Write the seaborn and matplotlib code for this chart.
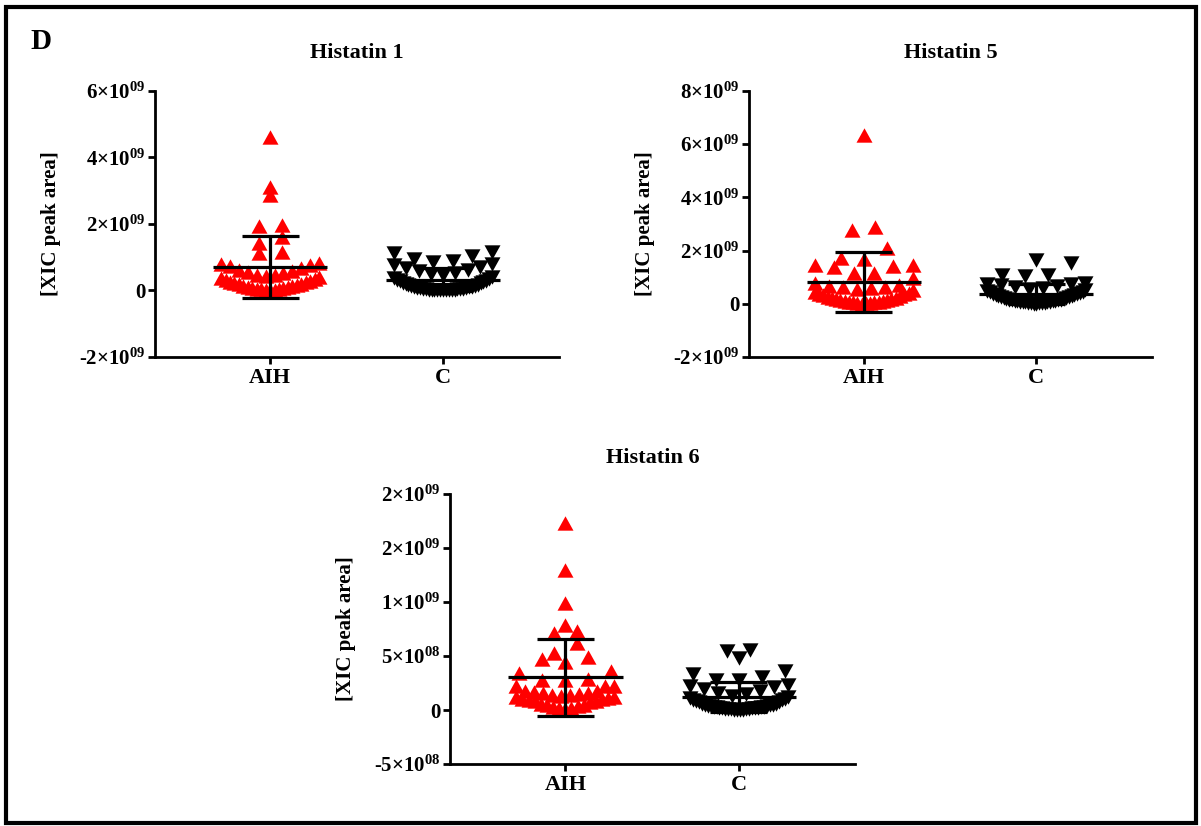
import numpy as np
import pandas as pd
import matplotlib
matplotlib.use("Agg")
import matplotlib.pyplot as plt
from matplotlib.path import Path
from matplotlib.patches import Rectangle
import seaborn as sns

# XIC peak areas, in units of 1e9
hst1_aih = [4.63, 3.10, 2.87, 1.97, 1.95, 1.62, 1.42, 1.17, 1.12, 0.82, 0.80, 0.77,
            0.75, 0.68, 0.61, 0.58, 0.55, 0.52, 0.48, 0.46, 0.43, 0.40, 0.37, 0.35,
            0.32, 0.30, 0.27, 0.25, 0.23, 0.21, 0.19, 0.17, 0.15, 0.13, 0.12, 0.10,
            0.09, 0.07, 0.06, 0.05, 0.04, 0.03, 0.02, 0.01]
hst1_c = [1.15, 1.13, 1.05, 0.94, 0.90, 0.86, 0.79, 0.76, 0.72, 0.68, 0.63, 0.58,
          0.54, 0.50, 0.46, 0.42, 0.39, 0.36, 0.33, 0.30, 0.28, 0.26, 0.24, 0.22,
          0.20, 0.18, 0.16, 0.15, 0.14, 0.12, 0.11, 0.10, 0.09, 0.08, 0.07, 0.06,
          0.05, 0.05, 0.04, 0.04, 0.03, 0.03, 0.02, 0.02, 0.02, 0.01, 0.01, 0.01,
          0.00, 0.00]
hst5_aih = [6.35, 2.90, 2.77, 2.09, 1.71, 1.67, 1.46, 1.46, 1.43, 1.39, 1.15, 1.15,
            0.96, 0.64, 0.64, 0.78, 0.72, 0.66, 0.60, 0.55, 0.50, 0.46, 0.42, 0.38,
            0.35, 0.32, 0.29, 0.26, 0.23, 0.21, 0.19, 0.17, 0.15, 0.13, 0.11, 0.10,
            0.08, 0.07, 0.06, 0.05, 0.04, 0.03, 0.02, 0.01]
hst5_c = [1.65, 1.52, 1.08, 1.08, 1.06, 0.78, 0.75, 0.73, 0.71, 0.66, 0.62, 0.58,
          0.55, 0.52, 0.49, 0.46, 0.43, 0.40, 0.38, 0.36, 0.34, 0.32, 0.30, 0.28,
          0.26, 0.24, 0.22, 0.21, 0.19, 0.18, 0.16, 0.15, 0.14, 0.13, 0.12, 0.11,
          0.10, 0.09, 0.08, 0.07, 0.06, 0.05, 0.05, 0.04, 0.03, 0.03, 0.02, 0.02,
          0.01, 0.01]
hst6_aih = [1.735, 1.295, 0.99, 0.79, 0.73, 0.71, 0.62, 0.53, 0.49, 0.47, 0.44, 0.36,
            0.34, 0.29, 0.28, 0.28, 0.22, 0.22, 0.22, 0.18, 0.18, 0.17, 0.16, 0.16,
            0.15, 0.14, 0.14, 0.13, 0.12, 0.12, 0.11, 0.10, 0.10, 0.09, 0.08, 0.08,
            0.07, 0.06, 0.05, 0.05, 0.04, 0.03, 0.02, 0.02, 0.01]
hst6_c = [0.56, 0.55, 0.48, 0.36, 0.33, 0.31, 0.28, 0.28, 0.23, 0.22, 0.21, 0.19,
          0.18, 0.16, 0.15, 0.13, 0.12, 0.11, 0.10, 0.09, 0.09, 0.08, 0.07, 0.07,
          0.06, 0.06, 0.05, 0.05, 0.05, 0.04, 0.04, 0.04, 0.03, 0.03, 0.03, 0.03,
          0.02, 0.02, 0.02, 0.02, 0.02, 0.01, 0.01, 0.01, 0.01, 0.01, 0.00, 0.00,
          0.00, 0.00]

groups = ["AIH", "C"]
titles = ["Histatin 1", "Histatin 5", "Histatin 6"]
series = [(hst1_aih, hst1_c), (hst5_aih, hst5_c), (hst6_aih, hst6_c)]
tick_values = [[-2, 0, 2, 4, 6],
               [-2, 0, 2, 4, 6, 8],
               [-0.5, 0, 0.5, 1.0, 1.5, 2.0]]
tick_labels = [["-2×10$^{09}$", "0", "2×10$^{09}$", "4×10$^{09}$", "6×10$^{09}$"],
               ["-2×10$^{09}$", "0", "2×10$^{09}$", "4×10$^{09}$", "6×10$^{09}$", "8×10$^{09}$"],
               ["-5×10$^{08}$", "0", "5×10$^{08}$", "1×10$^{09}$", "2×10$^{09}$", "2×10$^{09}$"]]
y_limits = [(-2, 6), (-2, 8), (-0.5, 2.0)]
colors = {"AIH": "#ff0000", "C": "#000000"}

sns.set_style("ticks")
plt.rcParams["font.family"] = ["Liberation Serif", "DejaVu Serif"]
plt.rcParams["font.weight"] = "bold"
plt.rcParams["mathtext.default"] = "regular"
for key in ("text.color", "axes.labelcolor", "xtick.color", "ytick.color", "axes.edgecolor"):
    plt.rcParams[key] = "black"

W, H = 1201, 826
DPI = 100
fig = plt.figure(figsize=(W / DPI, H / DPI), dpi=DPI)

# axes boxes in pixels: left, top, right, bottom
boxes = [(155, 91, 559, 357), (749, 91, 1152, 357), (450, 494, 855, 764)]
title_pads = [24, 24, 22]
XLIM = (-0.665, 1.67)

# triangle markers, slightly wider than tall
up_tri = Path([(0, 0.9), (-1, -0.9), (1, -0.9), (0, 0.9)],
              [Path.MOVETO, Path.LINETO, Path.LINETO, Path.CLOSEPOLY])
down_tri = Path([(0, -0.9), (-1, 0.9), (1, 0.9), (0, -0.9)],
                [Path.MOVETO, Path.LINETO, Path.LINETO, Path.CLOSEPOLY])
markers = {"AIH": up_tri, "C": down_tri}
MARKER_PT = 11.5


def dot_columns(values, px_per_unit, px_per_cat, bin_px=14.0, step_px=23.0, half_px=49.0):
    """Scatter-dot layout: values are grouped into rows one marker tall; each row is
    spread sideways around the column centre, smallest values in the middle."""
    v = np.sort(np.asarray(values, dtype=float))
    rows = np.floor(v * px_per_unit / bin_px).astype(int)
    offsets = np.zeros_like(v)
    for r in np.unique(rows):
        idx = np.where(rows == r)[0]
        n = len(idx)
        if n < 2:
            continue
        step = min(step_px, 2 * half_px / (n - 1))
        slots = np.arange(n) - (n - 1) / 2
        order = np.array(sorted(slots, key=lambda s: (abs(s), s)))
        offsets[idx] = order * step / px_per_cat
    return v, offsets


LW = 2.3
for k, (l, t, r, b) in enumerate(boxes):
    ax = fig.add_axes([l / W, 1 - b / H, (r - l) / W, (b - t) / H])
    y0, y1 = y_limits[k]
    px_per_unit = (b - t) / (y1 - y0)
    px_per_cat = (r - l) / (XLIM[1] - XLIM[0])

    frames = []
    for i, (g, vals) in enumerate(zip(groups, series[k])):
        v, off = dot_columns(vals, px_per_unit, px_per_cat)
        frames.append(pd.DataFrame({"group": g, "value": v, "pos": i + off}))
    df = pd.concat(frames, ignore_index=True)

    for g in groups:
        sub = df[df["group"] == g]
        sns.scatterplot(data=sub, x="pos", y="value", color=colors[g],
                        marker=markers[g], s=MARKER_PT ** 2, linewidth=0,
                        legend=False, ax=ax, zorder=2)

    # mean with SD
    for i, g in enumerate(groups):
        vals = df.loc[df["group"] == g, "value"].to_numpy()
        m, sd = vals.mean(), vals.std(ddof=1)
        ax.hlines(m, i - 0.33, i + 0.33, color="black", lw=LW, zorder=4, capstyle="butt")
        ax.hlines([m - sd, m + sd], i - 0.165, i + 0.165, color="black", lw=LW,
                  zorder=4, capstyle="butt")
        ax.vlines(i, m - sd, m + sd, color="black", lw=LW, zorder=4, capstyle="butt")

    ax.set_xlim(*XLIM)
    ax.set_ylim(y0, y1)
    ax.set_yticks(tick_values[k])
    ax.set_yticklabels(tick_labels[k])
    ax.set_xticks([0, 1])
    ax.set_xticklabels(groups)
    for side in ("top", "right"):
        ax.spines[side].set_visible(False)
    for side in ("left", "bottom"):
        ax.spines[side].set_linewidth(2.0)
        ax.spines[side].set_color("black")
        ax.spines[side].set_capstyle("projecting")
    ax.tick_params(axis="y", width=2.0, length=5, labelsize=15, pad=2, colors="black")
    ax.tick_params(axis="x", width=2.0, length=5, labelsize=16, pad=3, colors="black")
    for lab in ax.get_xticklabels() + ax.get_yticklabels():
        lab.set_fontweight("bold")
    ax.set_xlabel("")
    ax.set_ylabel("[XIC peak area]", fontsize=15, fontweight="bold", color="black")
    ax.yaxis.set_label_coords(-0.233, 0.5)
    ax.set_title(titles[k], fontsize=16, fontweight="bold", pad=title_pads[k], color="black")
    ax.patch.set_visible(False)

fig.text(30 / W, 1 - 49 / H, "D", fontsize=21, fontweight="bold", va="baseline", ha="left",
         color="black")
fig.patches.append(Rectangle((6 / W, 1 - 823 / H), (1196 - 6) / W, (823 - 7) / H,
                             transform=fig.transFigure, fill=False, edgecolor="black",
                             linewidth=3.0))

fig.savefig("out.png", dpi=DPI)
